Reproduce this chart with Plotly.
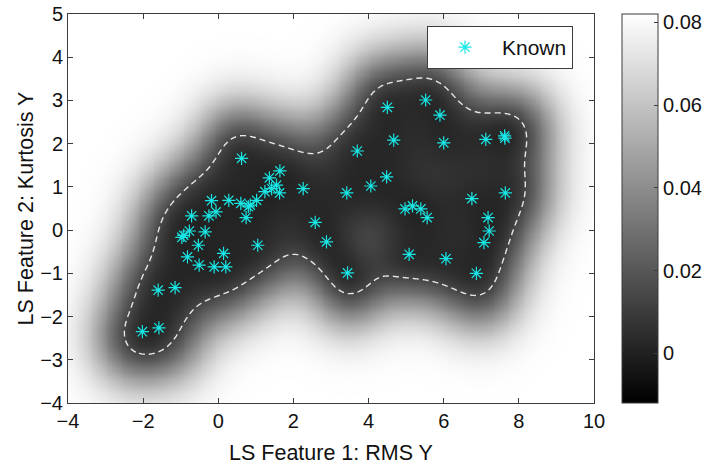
import numpy as np
import plotly.graph_objects as go

# Known (training) samples in the two-feature space
feat1_rms = [-2.02, -1.58, -1.60, -1.15, -0.82, -0.51, -0.11, 0.20, 0.14, -0.53,
             -0.97, -0.92, -0.77, -0.35, -0.71, -0.25, -0.06, -0.18, 0.28, 0.60,
             0.80, 0.85, 0.74, 1.02, 1.05, 0.62, 1.24, 1.36, 1.42, 1.55,
             1.64, 1.63, 2.26, 2.58, 2.88, 3.44, 3.42, 3.70, 4.06, 4.48,
             4.50, 4.67, 5.52, 5.90, 6.00, 4.97, 5.17, 5.39, 5.56, 5.08,
             6.06, 6.75, 6.87, 7.12, 7.62, 7.63, 7.64, 7.18, 7.21, 7.07]
feat2_kurt = [-2.35, -2.26, -1.39, -1.33, -0.62, -0.81, -0.85, -0.85, -0.54, -0.35,
              -0.17, -0.12, -0.02, -0.04, 0.33, 0.33, 0.42, 0.68, 0.69, 0.62,
              0.54, 0.58, 0.29, 0.69, -0.35, 1.66, 0.89, 1.21, 0.96, 1.04,
              1.37, 0.86, 0.96, 0.18, -0.27, -0.99, 0.86, 1.83, 1.02, 1.23,
              2.84, 2.08, 3.01, 2.66, 2.02, 0.49, 0.56, 0.49, 0.29, -0.56,
              -0.66, 0.73, -1.00, 2.10, 2.18, 2.13, 0.86, 0.29, -0.02, -0.29]

# Colour range and boundary level of the variance map
z_min, z_max = -0.012, 0.082
tick_vals = [0, 0.02, 0.04, 0.06, 0.08]
tick_text = ["0", "0.02", "0.04", "0.06", "0.08"]
boundary_level = 0.014

# Gaussian-process predictive variance over the feature plane
signal_var = 0.082
length_scale = 1.1
noise_var = 0.004

X = np.column_stack([feat1_rms, feat2_kurt])
gx = np.linspace(-4, 10, 281)
gy = np.linspace(-4, 5, 181)
GX, GY = np.meshgrid(gx, gy)
G = np.column_stack([GX.ravel(), GY.ravel()])


def kern(a, b):
    d2 = ((a[:, None, :] - b[None, :, :]) ** 2).sum(-1)
    return signal_var * np.exp(-0.5 * d2 / length_scale ** 2)


K = kern(X, X) + noise_var * np.eye(len(X))
Ks = kern(G, X)
sol = np.linalg.solve(K, Ks.T)
var = signal_var - np.einsum("ij,ji->i", Ks, sol)
Z = var.reshape(GY.shape)

font_family = "Liberation Sans, Arial, sans-serif"
axis_col = "#3c3c3c"

fig = go.Figure()

fig.add_trace(go.Heatmap(
    x=gx, y=gy, z=Z, zmin=z_min, zmax=z_max, zsmooth="best",
    colorscale=[[0, "black"], [1, "white"]],
    showscale=True, hoverinfo="skip",
    colorbar=dict(
        x=1.0527, xanchor="left", xpad=0, y=0.5, yanchor="middle",
        len=1, lenmode="fraction", ypad=0, thickness=36,
        outlinewidth=1, outlinecolor=axis_col,
        tickvals=tick_vals, ticktext=tick_text, ticks="inside",
        ticklen=4, tickcolor=axis_col,
        tickfont=dict(family=font_family, size=20, color="#111"),
    ),
))

fig.add_trace(go.Contour(
    x=gx, y=gy, z=Z, showscale=False, hoverinfo="skip",
    contours=dict(start=boundary_level, end=boundary_level, size=1,
                  coloring="none"),
    line=dict(color="#e6e6e6", width=1.4, dash="6px,4px"),
    showlegend=False,
))

fig.add_trace(go.Scatter(
    x=feat1_rms, y=feat2_kurt, mode="markers", name="Known",
    marker=dict(symbol="asterisk-open", size=11, color="#19e6e6",
                line=dict(color="#19e6e6", width=1.2)),
))

axis_common = dict(
    showgrid=False, zeroline=False, showline=True, linecolor=axis_col,
    linewidth=1, mirror="ticks", ticks="inside", ticklen=5,
    tickcolor=axis_col, tickfont=dict(family=font_family, size=20, color="#111"),
)

fig.update_layout(
    width=708, height=465,
    margin=dict(l=68, r=114, t=14, b=62, autoexpand=False),
    paper_bgcolor="white", plot_bgcolor="white",
    font=dict(family=font_family, size=21.5, color="#111"),
    xaxis=dict(range=[-4, 10], dtick=2,
               title=dict(text="LS Feature 1: RMS Y", standoff=13,
                          font=dict(size=21.5)),
               **axis_common),
    yaxis=dict(range=[-4, 5], dtick=1,
               title=dict(text="LS Feature 2: Kurtosis Y", standoff=0,
                          font=dict(size=21.5)),
               **axis_common),
    legend=dict(x=0.6825, y=0.969, xanchor="left", yanchor="top",
                bgcolor="white", bordercolor=axis_col, borderwidth=1,
                itemwidth=64, font=dict(family=font_family, size=21)),
    showlegend=True,
)

fig.write_html("out.html")
